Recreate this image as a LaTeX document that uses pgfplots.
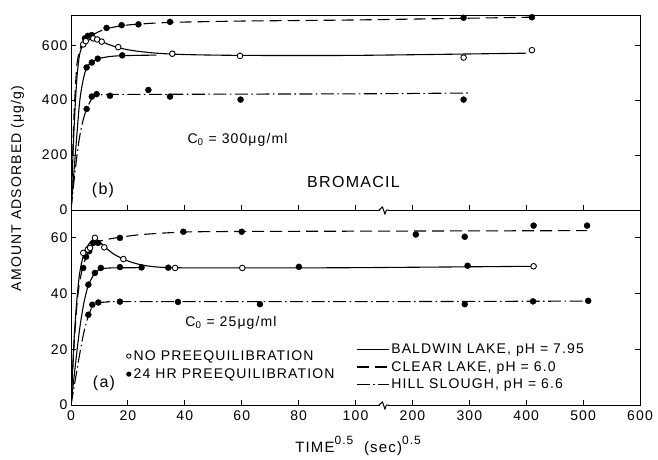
\documentclass[border=0pt]{standalone}
\usepackage{fontspec}
\setmainfont{Liberation Sans}[LetterSpace=8]
\usepackage{pgfplots}
\pgfplotsset{compat=1.18}

\newcommand{\fs}{\fontsize{14}{16}\selectfont}
\newcommand{\fsb}{\fontsize{16}{18}\selectfont}
\newcommand{\supx}[1]{\raisebox{1.05ex}{\fontsize{12}{13}\selectfont #1}}

\pgfplotsset{
  panel/.style={
    x coord trafo/.code={\pgfmathparse{(##1<=100) ? (##1) : (100+(##1-100)/5)}},
    scale only axis, width=569pt, height=195pt, anchor=south west,
    xmin=0, xmax=600,
    xtick={0,20,40,60,80,100,200,300,400,500,600},
    tick align=inside, xtick pos=left, ytick pos=both,
    major tick length=5pt,
    axis line style={line width=1pt},
    every tick/.style={black, line width=0.9pt},
    tick label style={font=\fs},
    xticklabel style={yshift=-2pt},
    /pgf/number format/assume math mode=true,
  },
  fitline/.style={black, line width=1.1pt, smooth, tension=0.45, no marks, forget plot},
  dsh/.style={dash pattern=on 12pt off 6pt},
  dshdot/.style={dash pattern=on 13pt off 3.5pt on 1.5pt off 3.5pt},
  fullpt/.style={only marks, mark=*, mark size=3pt, mark options={black, fill=black}, forget plot},
  openpt/.style={only marks, mark=*, mark size=2.8pt, mark options={black, fill=white, line width=0.9pt}, forget plot},
}

\begin{document}
\begin{tikzpicture}

% (a) C0 = 25 ug/ml
\begin{axis}[panel, at={(71pt,54pt)},
  ymin=0, ymax=70, ytick={0,20,40,60},
  xticklabels={0,20,40,60,80,100,200,300,400,500,600},
  legend image code/.code={\draw[#1] (0pt,0pt) -- (32pt,0pt);},
  legend style={at={(axis description cs:0.5009,0.326)}, anchor=north west,
    draw=none, fill=none, inner sep=0pt, row sep=2.5pt, font=\fs,
    nodes={inner sep=2pt}, cells={anchor=west}},
]
% Baldwin Lake, no preequilibration
\addplot[fitline] coordinates {(0,0)(1,22)(2,37)(3,47)(4.3,53.5)(5.5,56.5)(7,58.7)(8.5,59.4)(10,58.6)(12,56.6)(15,54.2)(18.4,52.4)(22,51)(27,49.9)(35,49.3)(60,49.2)(100,49.3)(413,49.8)};
% Baldwin Lake, 24 hr
\addplot[fitline] coordinates {(0,0)(1.5,14)(3,27)(4.5,36.5)(6.1,43)(8.4,47.4)(10.5,48.8)(14,49.2)(24.8,49.3)};
% Clear Lake
\addplot[fitline, dsh] coordinates {(0,0)(1,20)(2,35)(3,44)(4.3,50)(5.5,53.5)(7,56.5)(9,58.4)(12,59.3)(17,60.2)(25,61.2)(40,62.1)(60,62.3)(100,62.4)(507,62.6)};
% Hill Slough
\addplot[fitline, dshdot] coordinates {(0,0)(1.5,9)(3,18)(4.5,26)(6.1,32)(7.5,35.2)(9.6,36.6)(13,37)(20,37.1)(100,37.1)(509,37.3)};

\addplot[fullpt] coordinates {(4.3,49.2)(5.3,53.2)(6.4,55.2)(7.8,58.2)(9.5,58.2)(17.2,60.0)(39.5,62.2)(60,62.2)(206,61.2)(292,60.4)(413,64.4)(507,64.4)};
\addplot[fullpt] coordinates {(6.1,43.2)(8.4,47.4)(10.5,49.2)(17.2,49.5)(24.8,49.4)(34.2,49.3)(80.1,49.6)(297,50.0)};
\addplot[fullpt] coordinates {(6.1,32.4)(7.5,36.0)(9.6,36.8)(17.2,37.1)(37.6,37.0)(66.4,36.2)(292,36.2)(412,37.2)(509,37.4)};
\addplot[openpt] coordinates {(4.3,54.6)(5.9,55.8)(6.7,56.4)(8.4,60.0)(11.7,56.6)(18.4,52.4)(36.6,49.2)(60.2,49.2)(413,49.8)};

\addlegendimage{black, line width=1.1pt}
\addlegendentry{BALDWIN LAKE, pH = 7.95}
\addlegendimage{black, line width=1.1pt, dsh}
\addlegendentry{CLEAR LAKE, pH = 6.0}
\addlegendimage{black, line width=1.1pt, dshdot}
\addlegendentry{HILL SLOUGH, pH = 6.6}

\coordinate (brkA) at (axis cs:150,0);
\end{axis}

% (b) C0 = 300 ug/ml
\begin{axis}[panel, at={(71pt,249pt)},
  ymin=0, ymax=710, ytick={0,200,400,600},
  xticklabels={},
]
\addplot[fitline] coordinates {(0,0)(1,280)(2,470)(3,565)(4.3,603)(5.5,615)(7,622)(8.5,623)(10,618)(12,608)(14.5,598)(17,590)(22,580)(30,571)(40,566)(60,563)(100,563)(400,571)};
\addplot[fitline] coordinates {(0,0)(1.5,200)(3,390)(4.2,470)(5.5,519)(7.3,538)(9.4,550)(13,558)(18,562)(30,564)};
\addplot[fitline, dsh] coordinates {(0,0)(1,330)(2,520)(3,580)(4,608)(5,622)(6,630)(7.5,637)(9.5,648)(12.5,660)(17.8,671)(24,677)(35,683)(60,688)(100,692)(410,702)};
\addplot[fitline, dshdot] coordinates {(0,0)(1,100)(2,190)(3,265)(4.2,325)(5.5,368)(7.3,405)(9,416)(11,420)(15,421)(25,421)(60,422)(100,423)(302,426)};

\addplot[fullpt] coordinates {(4.9,625)(5.9,634)(7.3,637)(12.5,663)(17.8,673)(23.7,676)(34.8,685)(290,700)(410,702)};
\addplot[fullpt] coordinates {(5.5,519)(7.3,537)(9.4,551)(18,563)};
\addplot[fullpt] coordinates {(5.5,368)(7.3,413)(9,422)(13.7,416)(27.2,437)(34.8,413)(59.6,402)(290,402)};
\addplot[openpt] coordinates {(4.3,603)(5.2,615)(7.8,625)(9.2,621)(10.8,613)(16.6,593)(35.6,569)(59.4,561)(290,555)(410,582)};

\coordinate (brkB) at (axis cs:150,0);
\end{axis}

% axis breaks
\foreach \b in {brkA,brkB}{
  \draw[white, line width=3pt] ([xshift=-4pt]\b) -- ([xshift=4pt]\b);
  \draw[black, line width=1pt] ([xshift=-5pt]\b) -- ([xshift=-1.5pt,yshift=3pt]\b) -- ([xshift=1pt,yshift=-4pt]\b) -- ([xshift=2.5pt]\b) -- ([xshift=5pt]\b);
}

% texts
\node[font=\fsb] at (103pt,269pt) {(b)};
\node[font=\fsb] at (353.5pt,277pt) {BROMACIL};
\node[font=\fs] at (237.5pt,319pt) {C\textsubscript{0} = 300μg/ml};
\node[font=\fsb] at (104pt,76pt) {(a)};
\node[font=\fs] at (231pt,136pt) {C\textsubscript{0} = 25μg/ml};
\node[font=\fs, anchor=west, inner sep=0pt] at (126pt,102pt) {\tikz[baseline=-0.6ex]\draw[line width=0.8pt, fill=white] (0,0) circle (2.2pt);\,NO PREEQUILIBRATION};
\node[font=\fs, anchor=west, inner sep=0pt] at (126pt,84pt) {\tikz[baseline=-0.6ex]\fill (0,0) circle (2.6pt);\,24 HR PREEQUILIBRATION};
\node[font=\fontsize{15}{17}\selectfont] at (358pt,13pt) {TIME\supx{0.5}\ \ (sec)\supx{0.5}};
\node[font=\fs, rotate=90] at (17.5pt,270.5pt) {AMOUNT ADSORBED (μg/g)};

\pgfresetboundingbox
\path (0pt,0pt) rectangle (658pt,459pt);
\end{tikzpicture}
\end{document}
